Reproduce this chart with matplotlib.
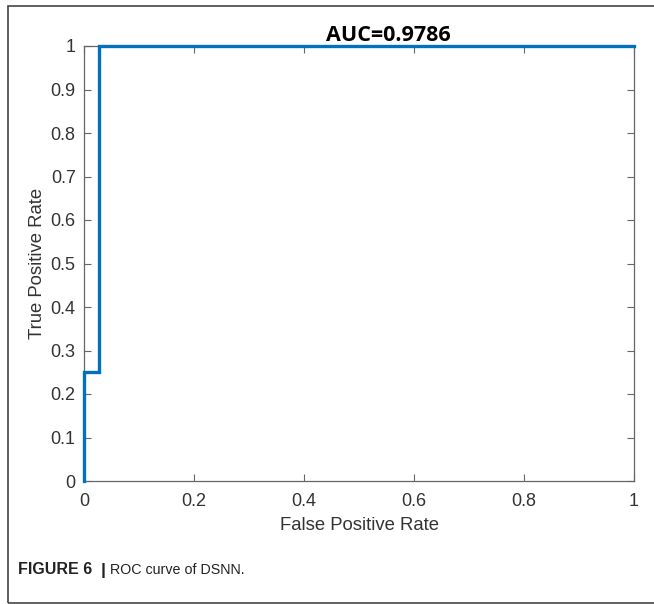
import numpy as np
import matplotlib.pyplot as plt
from matplotlib.patches import Rectangle

# pontos da curva ROC (degraus)
fpr = [0.0, 0.0, 0.028, 0.028, 1.0]
tpr = [0.0, 0.25, 0.25, 1.0, 1.0]
auc_text = 'AUC=0.9786'
x_ticks = [0, 0.2, 0.4, 0.6, 0.8, 1]
y_ticks = [0, 0.1, 0.2, 0.3, 0.4, 0.5, 0.6, 0.7, 0.8, 0.9, 1]

W, H = 654, 604
fig = plt.figure(figsize=(W / 100, H / 100), dpi=100)
plt.rcParams['font.family'] = ['Liberation Sans', 'DejaVu Sans']

ax = fig.add_axes([84 / W, 1 - 481 / H, 550 / W, 435 / H])
ax.plot(fpr, tpr, color='#0072BD', linewidth=2.4, solid_joinstyle='miter',
        clip_on=False, zorder=5)
ax.set_xlim(0, 1)
ax.set_ylim(0, 1)
ax.set_xticks(x_ticks)
ax.set_xticklabels(['%g' % v for v in x_ticks])
ax.set_yticks(y_ticks)
ax.set_yticklabels(['%g' % v for v in y_ticks])
ax.tick_params(direction='in', top=True, right=True, length=5, width=0.8,
               color='#666666', labelcolor='#333333', labelsize=13)
ax.tick_params(axis='x', pad=9)
ax.tick_params(axis='y', pad=6)
for s in ax.spines.values():
    s.set_color('#666666')
    s.set_linewidth(0.9)
ax.set_xlabel('False Positive Rate', fontsize=13.3, color='#333333', labelpad=5)
ax.set_ylabel('True Positive Rate', fontsize=13.3, color='#333333', labelpad=3)
ax.text(0.553, 0.999, auc_text, transform=ax.transAxes, ha='center', va='bottom',
        fontsize=15.5, fontweight='bold', family=['Open Sans', 'DejaVu Sans'])

# moldura da figura
fig.patches.append(Rectangle((7.5 / W, 1 - 602.5 / H), 700 / W, 597 / H,
                             transform=fig.transFigure, fill=False,
                             edgecolor='#444444', linewidth=1.2))
fig.text(18 / W, 1 - 570 / H, 'FIGURE 6', fontsize=11.5, fontweight='bold',
         color='#222222', va='center')
fig.text(101 / W, 1 - 570 / H, '|', fontsize=12.5, fontweight='bold',
         color='#222222', va='center')
fig.text(110 / W, 1 - 570 / H, 'ROC curve of DSNN.', fontsize=10.3,
         color='#222222', va='center')

fig.savefig('out.png', dpi=100)
